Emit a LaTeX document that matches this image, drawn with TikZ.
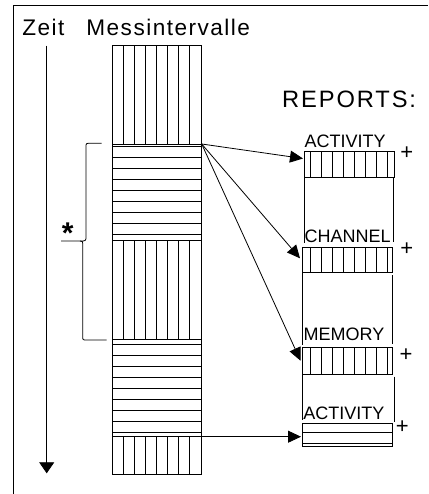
\documentclass[tikz,border=0pt]{standalone}
\usepackage{fontspec}
\setmainfont{Liberation Sans}
\usetikzlibrary{arrows.meta}
\begin{document}
\begin{tikzpicture}[x=1pt,y=-1pt,line width=0.8pt,
  big/.style={anchor=base west,inner sep=0pt,font=\fontsize{22.6}{24}\selectfont\addfontfeature{LetterSpace=6.5}},
  rep/.style={anchor=base west,inner sep=0pt,font=\fontsize{23.7}{25}\selectfont\addfontfeature{LetterSpace=8}},
  boxlbl/.style={anchor=base west,inner sep=0pt,font=\fontsize{18}{20}\selectfont},
  plussign/.style={inner sep=0pt,font=\fontsize{22}{24}\selectfont},
  conn/.style={-{Triangle[length=13pt,width=12pt]}},
  timearrow/.style={-{Triangle[length=11pt,width=15pt]}}]
\useasboundingbox (0,0) rectangle (428,494);
% frame
\draw (13,494) -- (13,5) -- (428,5);
% labels
\node[big] (zeit) at (22,36) {Zeit};
\node[big] (mess) at (86,36) {Messintervalle};
\node[rep] (reports) at (281.7,107.7) {REPORTS:};
% time axis
\coordinate (ttop) at (46.7,45.7);
\coordinate (tbot) at (46.7,473.3);
\draw[timearrow] (ttop) -- (tbot);
% measurement column
\draw (112,45.7) rectangle (201.7,474.3);
\foreach \x in {123.3,134.3,145.3,156.3,167.3,178.3,189.3}{
  \draw (\x,45.7) -- (\x,144);
  \draw (\x,240) -- (\x,339.3);
  \draw (\x,436.7) -- (\x,474.3);
}
\foreach \y in {144,146.7,157.7,168.7,179.7,190.7,201.7,212.7,223.7,234.7,240,
                339.3,344,355,366,377.3,388.3,399.3,410.3,421.3,432.3,436.7}{
  \draw (112,\y) -- (201.7,\y);
}
% brace
\draw (101.7,143.3) -- (90,143.3) .. controls (86,143.3) .. (86,147.3)
   -- (86,236) .. controls (86,241) .. (80,241) -- (61,241);
\draw (80,241) .. controls (82.7,241) .. (82.7,246) -- (82.7,336)
   .. controls (82.7,340) .. (86.7,340) -- (106.7,340);
\node[inner sep=0pt,font=\fontsize{30}{30}\selectfont\bfseries] (star) at (67.7,233) {*};
% report frames
\draw (304,177.3) -- (304,243.3);
\draw (393.3,177.3) -- (393.3,242);
\draw (302.7,272.7) -- (302.7,345);
\draw (392.7,275) -- (392.7,344);
\draw (302.7,374) -- (302.7,420);
\draw (394,376.7) -- (394,421.7);
% report boxes
\draw (304,151.7) rectangle (394.3,177.3);
\foreach \x in {310.7,321.7,332.7,343.7,354.7,365.7,376.7,387.3}
  \draw (\x,151.7) -- (\x,177.3);
\draw (302.3,247.3) rectangle (392.7,272.7);
\foreach \x in {310.7,321.7,332.7,343.7,354.7,365.7,376.7,387.3}
  \draw (\x,247.3) -- (\x,272.7);
\draw (302.3,347.3) rectangle (392.7,374);
\foreach \x in {310.7,321.7,332.7,343.7,354.7,365.7,376.7,387.3}
  \draw (\x,347.3) -- (\x,374);
\draw (302.3,423.3) rectangle (392.7,446);
\draw (302.3,432.7) -- (392.7,432.7);
\draw (302.3,443.3) -- (392.7,443.3);
% report labels
\node[boxlbl] (l1) at (304.3,147.3) {ACTIVITY};
\node[boxlbl] (l2) at (304.3,242.3) {CHANNEL};
\node[boxlbl] (l3) at (303.3,340) {MEMORY};
\node[boxlbl] (l4) at (303,419) {ACTIVITY};
\node[plussign] (p1) at (406.7,153.3) {+};
\node[plussign] (p2) at (406.7,249.3) {+};
\node[plussign] (p3) at (406,355) {+};
\node[plussign] (p4) at (402.3,427.3) {+};
% connectors
\coordinate (src) at (201.7,144);
\coordinate (src2) at (201.7,436.7);
\coordinate (t1) at (303,158.5);
\coordinate (t2) at (300,258.3);
\coordinate (t3) at (300.5,360.7);
\coordinate (t4) at (301,436.7);
\draw[conn] (src) -- (t1);
\draw[conn] (src) -- (t2);
\draw[conn] (src) -- (t3);
\draw[conn] (src2) -- (t4);
\end{tikzpicture}
\end{document}
